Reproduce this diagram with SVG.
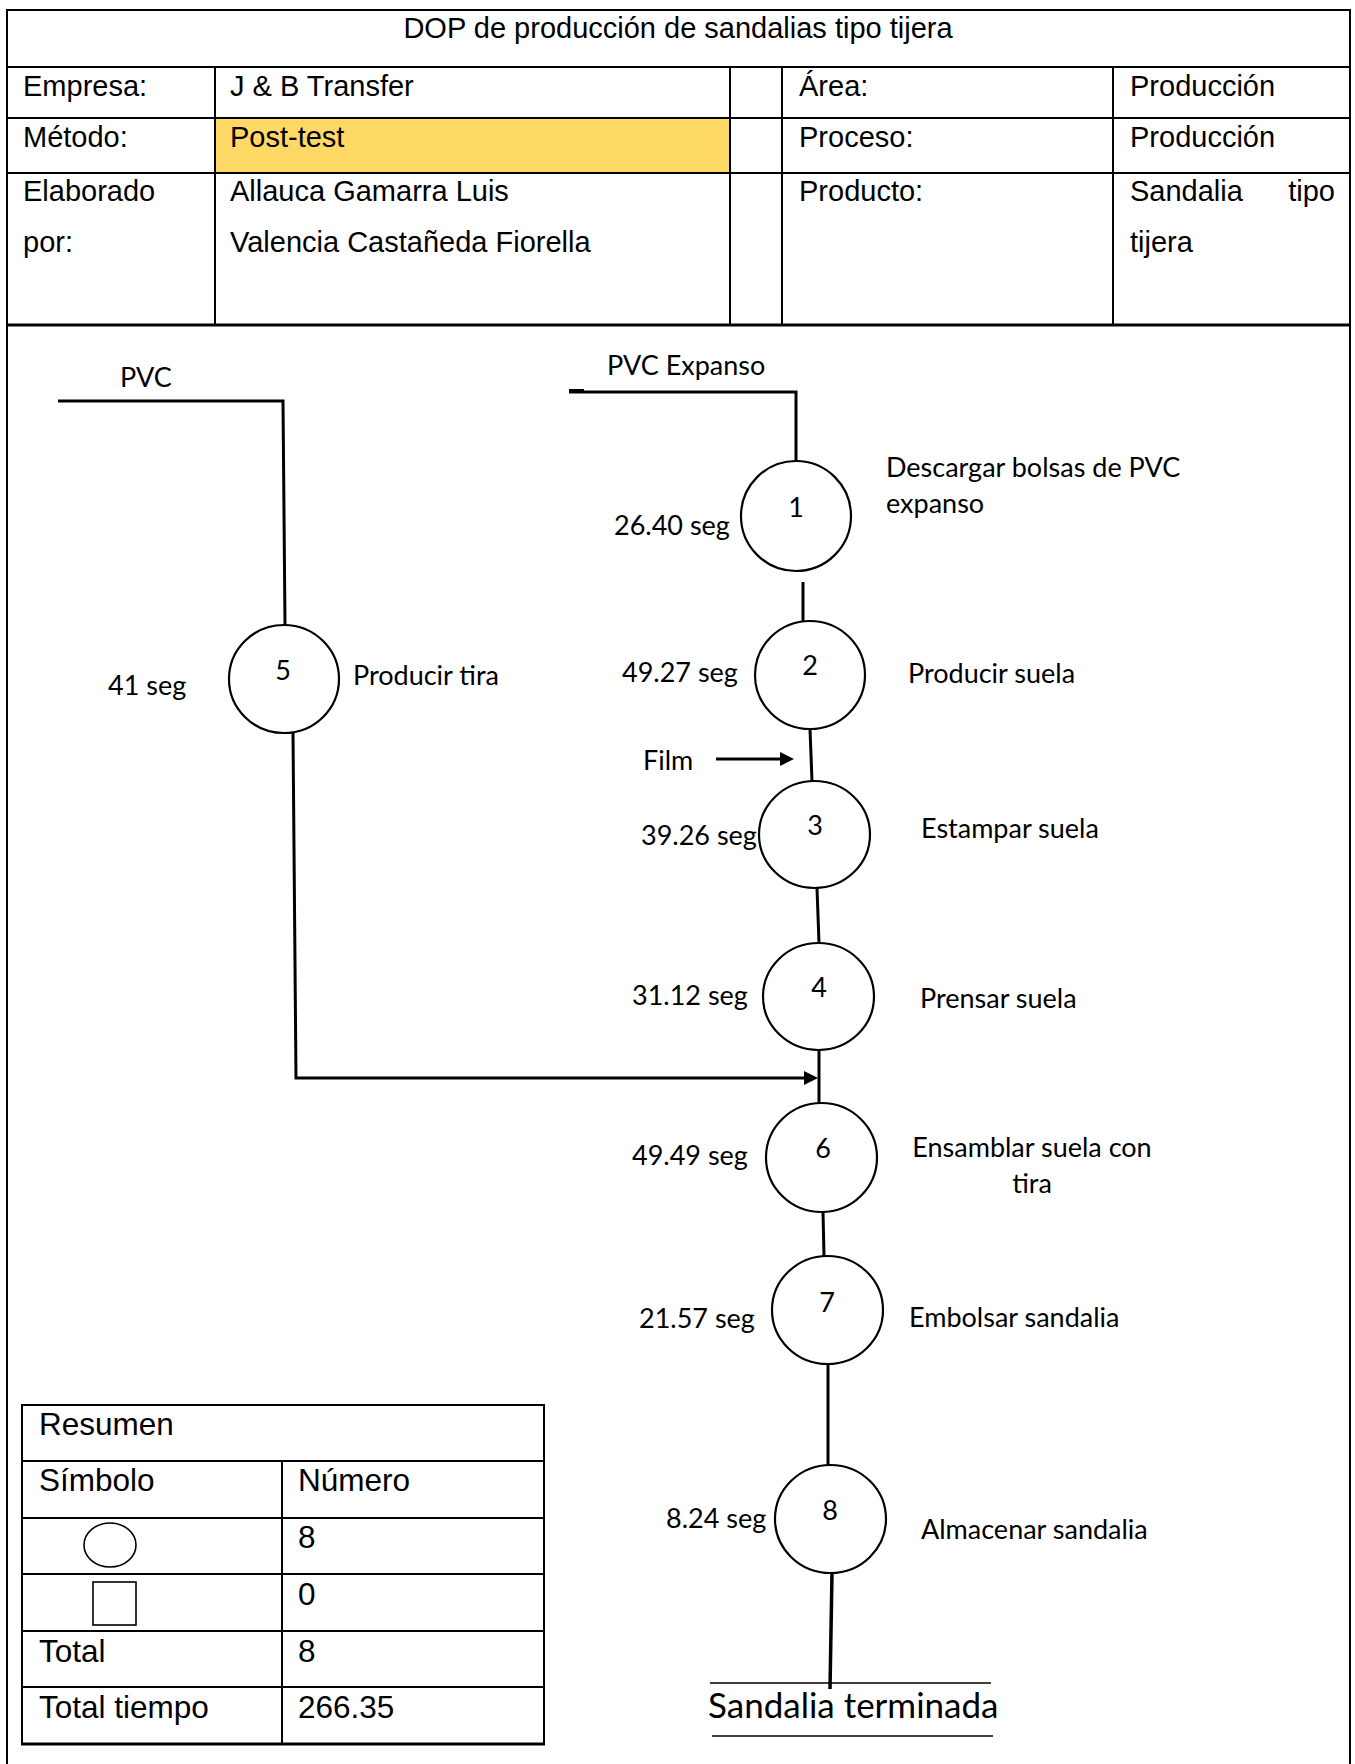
<svg xmlns="http://www.w3.org/2000/svg" width="1355" height="1764" viewBox="0 0 1355 1764">
<style>
.tb{fill:none;stroke:#000;stroke-width:2}
.tt{font-family:"Liberation Sans",Arial,sans-serif;font-size:29px;fill:#000}
.st{font-family:"Liberation Sans",Arial,sans-serif;font-size:31.5px;fill:#000}
.lb{font-family:Lato,"Open Sans",sans-serif;font-size:27px;fill:#000}
.num{font-family:Lato,"Open Sans",sans-serif;font-size:27px;fill:#000;text-anchor:middle}
.op{fill:#fff;stroke:#000;stroke-width:2.2}
.cn{fill:none;stroke:#000;stroke-width:3}
.thin{fill:none;stroke:#000;stroke-width:1.3}
</style>
<defs>
<marker id="ah" markerUnits="userSpaceOnUse" viewBox="0 0 14 14" refX="10" refY="7" markerWidth="14" markerHeight="14" orient="auto">
<path d="M0 0 L14 7 L0 14 Z" fill="#000"/>
</marker>
</defs>
<rect width="1355" height="1764" fill="#fff"/>

<g id="header-table">
<rect x="215" y="118" width="515" height="55" fill="#FFD966"/>
<rect class="tb" x="7" y="10" width="1343" height="1760"/>
<line class="tb" x1="7" y1="67" x2="1350" y2="67"/>
<line class="tb" x1="7" y1="118" x2="1350" y2="118"/>
<line class="tb" x1="7" y1="173" x2="1350" y2="173"/>
<line class="tb" x1="7" y1="325" x2="1350" y2="325" style="stroke-width:3"/>
<line class="tb" x1="215" y1="67" x2="215" y2="325"/>
<line class="tb" x1="730" y1="67" x2="730" y2="325"/>
<line class="tb" x1="782" y1="67" x2="782" y2="325"/>
<line class="tb" x1="1113" y1="67" x2="1113" y2="325"/>
<text class="tt" x="678" y="38" text-anchor="middle">DOP de producción de sandalias tipo tijera</text>
<text class="tt" x="23" y="96">Empresa:</text>
<text class="tt" x="230" y="96">J &amp; B Transfer</text>
<text class="tt" x="799" y="96">Área:</text>
<text class="tt" x="1130" y="96">Producción</text>
<text class="tt" x="23" y="147">Método:</text>
<text class="tt" x="230" y="147">Post-test</text>
<text class="tt" x="799" y="147">Proceso:</text>
<text class="tt" x="1130" y="147">Producción</text>
<text class="tt" x="23" y="201">Elaborado</text>
<text class="tt" x="23" y="252">por:</text>
<text class="tt" x="230" y="201">Allauca Gamarra Luis</text>
<text class="tt" x="230" y="252">Valencia Castañeda Fiorella</text>
<text class="tt" x="799" y="201">Producto:</text>
<text class="tt" x="1130" y="201">Sandalia</text>
<text class="tt" x="1335" y="201" text-anchor="end">tipo</text>
<text class="tt" x="1130" y="252">tijera</text>
</g>

<g id="connectors">
<path class="cn" d="M58 401 H283 L285 625"/>
<path class="cn" d="M569 392 H796 V461"/>
<line x1="569" y1="391" x2="584" y2="391" stroke="#000" stroke-width="4"/>
<path class="cn" d="M803 582 V621"/>
<path class="cn" d="M810 729 L812 781"/>
<path class="cn" d="M716 759 H790" marker-end="url(#ah)"/>
<path class="cn" d="M817 888 L819 943"/>
<path class="cn" d="M819 1050 V1103"/>
<path class="cn" d="M293 733 L296 1078 H814" marker-end="url(#ah)"/>
<path class="cn" d="M823 1212 L824 1256"/>
<path class="cn" d="M828 1364 V1465"/>
<path class="cn" d="M832 1573 L830 1689" style="stroke-width:3.5"/>
<line class="thin" x1="710" y1="1683" x2="991" y2="1683"/>
<line class="thin" x1="712" y1="1736" x2="993" y2="1736"/>
</g>

<g id="inputs">
<text class="lb" x="120" y="387">PVC</text>
<text class="lb" x="607" y="375">PVC Expanso</text>
<text class="lb" x="643" y="770">Film</text>
</g>

<g id="op1">
<ellipse class="op" cx="796" cy="516" rx="55" ry="55"/>
<text class="num" x="796" y="517">1</text>
<text class="lb" x="614" y="535">26.40 seg</text>
<text class="lb" x="886" y="477">Descargar bolsas de PVC</text>
<text class="lb" x="886" y="513">expanso</text>
</g>
<g id="op2">
<ellipse class="op" cx="810" cy="675" rx="55" ry="54"/>
<text class="num" x="810" y="675">2</text>
<text class="lb" x="622" y="682">49.27 seg</text>
<text class="lb" x="908" y="683">Producir suela</text>
</g>
<g id="op3">
<ellipse class="op" cx="814.5" cy="834.5" rx="55.5" ry="53.5"/>
<text class="num" x="815" y="835">3</text>
<text class="lb" x="641" y="845">39.26 seg</text>
<text class="lb" x="921" y="838">Estampar suela</text>
</g>
<g id="op4">
<ellipse class="op" cx="818.5" cy="996.5" rx="55.5" ry="53.5"/>
<text class="num" x="819" y="997">4</text>
<text class="lb" x="632" y="1005">31.12 seg</text>
<text class="lb" x="920" y="1008">Prensar suela</text>
</g>
<g id="op5">
<ellipse class="op" cx="284" cy="679" rx="55" ry="54"/>
<text class="num" x="283" y="680">5</text>
<text class="lb" x="108" y="695">41 seg</text>
<text class="lb" x="353" y="685">Producir tira</text>
</g>
<g id="op6">
<ellipse class="op" cx="821.5" cy="1157.5" rx="55.5" ry="54.5"/>
<text class="num" x="823" y="1158">6</text>
<text class="lb" x="632" y="1165">49.49 seg</text>
<text class="lb" x="1032" y="1157" text-anchor="middle">Ensamblar suela con</text>
<text class="lb" x="1032" y="1193" text-anchor="middle">tira</text>
</g>
<g id="op7">
<ellipse class="op" cx="827.5" cy="1310" rx="55.5" ry="54"/>
<text class="num" x="827" y="1312">7</text>
<text class="lb" x="639" y="1328">21.57 seg</text>
<text class="lb" x="909" y="1327">Embolsar sandalia</text>
</g>
<g id="op8">
<ellipse class="op" cx="830.5" cy="1519" rx="55.5" ry="54"/>
<text class="num" x="830" y="1520">8</text>
<text class="lb" x="666" y="1528">8.24 seg</text>
<text class="lb" x="921" y="1539">Almacenar sandalia</text>
</g>
<g id="end">
<text class="lb" x="708" y="1718" style="font-size:35px">Sandalia terminada</text>
</g>

<g id="summary-table">
<rect class="tb" x="22" y="1405" width="522" height="339"/>
<line class="tb" x1="22" y1="1461" x2="544" y2="1461"/>
<line class="tb" x1="22" y1="1518" x2="544" y2="1518"/>
<line class="tb" x1="22" y1="1574" x2="544" y2="1574"/>
<line class="tb" x1="22" y1="1631" x2="544" y2="1631"/>
<line class="tb" x1="22" y1="1687" x2="544" y2="1687"/>
<line class="tb" x1="21" y1="1744" x2="545" y2="1744" style="stroke-width:3"/>
<line class="tb" x1="282" y1="1461" x2="282" y2="1744"/>
<text class="st" x="39" y="1435">Resumen</text>
<text class="st" x="39" y="1491">Símbolo</text>
<text class="st" x="298" y="1491">Número</text>
<ellipse cx="110" cy="1545" rx="26" ry="22" fill="none" stroke="#000" stroke-width="1.6"/>
<text class="st" x="298" y="1548">8</text>
<rect x="93" y="1582" width="43" height="43" fill="none" stroke="#000" stroke-width="1.6"/>
<text class="st" x="298" y="1605">0</text>
<text class="st" x="39" y="1662">Total</text>
<text class="st" x="298" y="1662">8</text>
<text class="st" x="39" y="1718">Total tiempo</text>
<text class="st" x="298" y="1718">266.35</text>
</g>
</svg>
